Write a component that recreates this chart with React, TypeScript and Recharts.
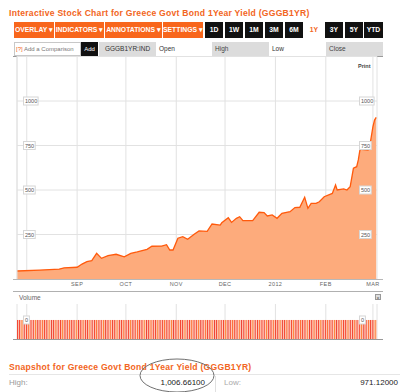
import React from "react";
import { AreaChart, Area, XAxis, YAxis, CartesianGrid, ReferenceLine, BarChart, Bar } from "recharts";

// ---- data ----
const dates = [
  "2011-07-26", "2011-08-09", "2011-08-21", "2011-08-24", "2011-09-01", "2011-09-04", "2011-09-07",
  "2011-09-10", "2011-09-13", "2011-09-16", "2011-09-20", "2011-09-25", "2011-09-30", "2011-10-04",
  "2011-10-08", "2011-10-14", "2011-10-17", "2011-10-23", "2011-10-26", "2011-10-28", "2011-10-30",
  "2011-11-02", "2011-11-05", "2011-11-08", "2011-11-12", "2011-11-15", "2011-11-20", "2011-11-23",
  "2011-11-28", "2011-11-29", "2011-12-03", "2011-12-05", "2011-12-08", "2011-12-10", "2011-12-12",
  "2011-12-18", "2011-12-22", "2011-12-25", "2011-12-27", "2011-12-30", "2012-01-02", "2012-01-05",
  "2012-01-10", "2012-01-13", "2012-01-16", "2012-01-19", "2012-01-21", "2012-01-23", "2012-01-26",
  "2012-01-28", "2012-01-31", "2012-02-05", "2012-02-07", "2012-02-08", "2012-02-12", "2012-02-14",
  "2012-02-16", "2012-02-18", "2012-02-20", "2012-02-21", "2012-02-22", "2012-02-23", "2012-02-27",
  "2012-02-28", "2012-03-01", "2012-03-02", "2012-03-03",
];
const yields = [
  45, 50, 56, 63, 66, 84, 97,
  103, 144, 116, 131, 139, 125, 144,
  152, 167, 184, 185, 193, 163, 163,
  229, 238, 223, 251, 270, 268, 309,
  303, 316, 344, 318, 341, 350, 328,
  328, 375, 373, 354, 360, 341, 369,
  378, 401, 403, 459, 397, 425, 425,
  434, 462, 481, 528, 500, 506, 500,
  519, 622, 631, 669, 725, 729, 725,
  744, 856, 893, 908,
];
const monthTickDates = ["2011-08-01", "2011-09-01", "2011-10-01", "2011-11-01", "2011-12-01", "2012-01-01", "2012-02-01", "2012-03-01"];
const monthTickLabels = ["", "SEP", "OCT", "NOV", "DEC", "2012", "FEB", "MAR"];
const yTicks = [250, 500, 750, 1000];
const volumeStart = "2011-07-26";
const volumeEnd = "2012-03-02";
const volumeBarLevel = 1;
const volumeAxisLabel = "0";
const snapshotHigh = "1,006.66100";
const snapshotLow = "971.12000";

// ---- helpers ----
const ORIGIN = Date.UTC(2011, 8, 1);
const DAY = 86400000;
const toDay = (s: string) => {
  const [y, m, d] = s.split("-").map(Number);
  return (Date.UTC(y, m - 1, d) - ORIGIN) / DAY;
};
const mainData = dates.map((d, i) => ({ day: toDay(d), value: yields[i] }));
const monthTicks = monthTickDates.map(toDay);
const labelFor = (v: number) => monthTickLabels[monthTicks.indexOf(v)] ?? "";

const volumeData: { day: number; volume: number }[] = [];
for (let t = toDay(volumeStart); t <= toDay(volumeEnd); t++) {
  const wd = new Date(ORIGIN + t * DAY).getUTCDay();
  if (wd !== 0 && wd !== 6) volumeData.push({ day: t, volume: volumeBarLevel });
}

const X_DOMAIN: [number, number] = [-37, 184.5];
const ORANGE = "#f26522";
const FONT = "'Liberation Sans', Arial, sans-serif";

// draws the boxed value label on both sides of the plot
const boxTick = (fmt: (v: any) => string) => (props: any) => {
  const label = fmt(props.payload.value);
  const w = label.length * 2.9 + 3;
  return (
    <g>
      {[23, 359].map((lx) => (
        <g key={lx}>
          <rect x={lx + 0.5} y={props.y - 4} width={w} height={8} fill="#fff" stroke="#d6d6d6" strokeWidth={1} />
          <text x={lx + 2} y={props.y + 2} fontSize={5.5} fill="#555" fontFamily={FONT}>{label}</text>
        </g>
      ))}
    </g>
  );
};

const xTick = (props: any) => (
  <text x={props.x} y={286} textAnchor="middle" fontSize={5.5} letterSpacing={0.4} fill="#666" fontFamily={FONT}>
    {labelFor(props.payload.value)}
  </text>
);

const stripeColors = ["#f2200c", "#f2200c", "#ff7214", "#e8180c", "#f2200c", "#ff5a10"];
const VolumeShape = (props: any) => {
  const { x, y, width, height, index } = props;
  return (
    <g>
      <rect x={x} y={y} width={width} height={height} fill="#fcbfac" />
      <rect x={x} y={y} width={0.75} height={height} fill={stripeColors[index % stripeColors.length]} />
    </g>
  );
};

const abs = (s: React.CSSProperties): React.CSSProperties => ({ position: "absolute", ...s });

const orangeButtons = [
  { label: "OVERLAY ▾", x: 14, w: 40 },
  { label: "INDICATORS ▾", x: 55, w: 49 },
  { label: "ANNOTATIONS ▾", x: 105, w: 57 },
  { label: "SETTINGS ▾", x: 163, w: 40 },
];
const blackButtons = [
  { label: "1D", x: 205, w: 18 },
  { label: "1W", x: 225, w: 18 },
  { label: "1M", x: 245, w: 18 },
  { label: "3M", x: 265, w: 18 },
  { label: "6M", x: 285, w: 18 },
  { label: "3Y", x: 325, w: 18 },
  { label: "5Y", x: 345, w: 18 },
  { label: "YTD", x: 364, w: 19 },
];

const titleStyle: React.CSSProperties = { fontSize: 8.6, fontWeight: "bold", color: ORANGE, letterSpacing: 0.25, whiteSpace: "nowrap" };
const btnText: React.CSSProperties = { fontSize: 6.8, fontWeight: "bold", lineHeight: "16px", textAlign: "center", whiteSpace: "nowrap", overflow: "hidden" };

export default function App() {
  return (
    <div style={{ position: "absolute", left: 0, top: 0, width: 400, height: 392, background: "#fff", fontFamily: FONT, overflow: "hidden" }}>
      {/* Title */}
      <div style={abs({ left: 9, top: 8, ...titleStyle })}>
        Interactive Stock Chart for Greece Govt Bond 1Year Yield (GGGB1YR)
      </div>

      {/* Toolbar */}
      {orangeButtons.map((b) => (
        <div key={b.label} style={abs({ left: b.x, top: 22, width: b.w, height: 16, background: "#f8661c", color: "#fff", ...btnText })}>
          {b.label}
        </div>
      ))}
      {blackButtons.map((b) => (
        <div key={b.label} style={abs({ left: b.x, top: 22, width: b.w, height: 16, background: "#111", color: "#fff", ...btnText })}>
          {b.label}
        </div>
      ))}
      <div style={abs({ left: 305, top: 22, width: 18, height: 16, color: ORANGE, ...btnText })}>1Y</div>

      {/* Row 2 */}
      <div style={abs({ left: 14, top: 42, width: 64, height: 12, border: "1px solid #c8c8c8", fontSize: 6, lineHeight: "12px", color: "#777", whiteSpace: "nowrap", paddingLeft: 1 })}>
        <span style={{ color: ORANGE }}>[?]</span> Add a Comparison
      </div>
      <div style={abs({ left: 81, top: 42, width: 17, height: 14, background: "#111", color: "#fff", fontSize: 6, lineHeight: "14px", textAlign: "center" })}>Add</div>
      <div style={abs({ left: 99, top: 42, width: 57, height: 14, background: "#dcdcdc", color: "#333", fontSize: 6.5, lineHeight: "14px", textAlign: "center" })}>GGGB1YR:IND</div>
      <div style={abs({ left: 159, top: 42, height: 14, color: "#333", fontSize: 6.5, lineHeight: "14px" })}>Open</div>
      <div style={abs({ left: 212, top: 42, width: 57, height: 14, background: "#dcdcdc", color: "#444", fontSize: 6.5, lineHeight: "14px", paddingLeft: 3, boxSizing: "border-box" })}>High</div>
      <div style={abs({ left: 272, top: 42, height: 14, color: "#333", fontSize: 6.5, lineHeight: "14px" })}>Low</div>
      <div style={abs({ left: 326, top: 42, width: 57, height: 14, background: "#dcdcdc", color: "#444", fontSize: 6.5, lineHeight: "14px", paddingLeft: 3, boxSizing: "border-box" })}>Close</div>

      {/* Main chart frame lines */}
      <div style={abs({ left: 13, top: 56, width: 370, height: 1, background: "#9a9a9a" })} />

      <div style={abs({ left: 0, top: 0 })}>
        <AreaChart width={400} height={300} data={mainData} margin={{ top: 56.5, right: 23, bottom: 9, left: 16 }}>
          <CartesianGrid stroke="#e2e2e2" strokeWidth={1} />
          <XAxis dataKey="day" type="number" domain={X_DOMAIN} allowDataOverflow ticks={monthTicks} height={12} axisLine={false} tickLine={false} tick={xTick} interval={0} />
          <YAxis width={1} domain={[0, 1250]} ticks={yTicks} axisLine={false} tickLine={false} tick={boxTick((v) => String(v))} interval={0} />
          <ReferenceLine x={X_DOMAIN[0]} stroke="#e2e2e2" />
          <Area type="linear" dataKey="value" stroke="#ff5a0c" strokeWidth={1.3} fill="#fdab7c" fillOpacity={1} isAnimationActive={false} dot={false} />
        </AreaChart>
      </div>
      <div style={abs({ left: 13, top: 279, width: 370, height: 1, background: "#b8b8b8" })} />
      <div style={abs({ left: 358, top: 63, fontSize: 5.5, fontWeight: "bold", color: "#444" })}>Print</div>

      {/* Volume panel */}
      <div style={abs({ left: 13, top: 291, width: 370, height: 1, background: "#b0b0b0" })} />
      <div style={abs({ left: 19, top: 294, fontSize: 6.5, color: "#666" })}>Volume</div>
      <div style={abs({ left: 375, top: 294, width: 6, height: 6, background: "#ddd", border: "0.5px solid #999", fontSize: 5, lineHeight: "6px", textAlign: "center", color: "#555", boxSizing: "border-box" })}>×</div>
      <div style={abs({ left: 0, top: 291 })}>
        <BarChart width={400} height={52} data={volumeData} margin={{ top: 13, right: 23, bottom: 4, left: 16 }} barCategoryGap={0} barGap={0}>
          <XAxis xAxisId="cat" dataKey="day" type="category" hide />
          <XAxis xAxisId="num" dataKey="day" type="number" domain={X_DOMAIN} allowDataOverflow ticks={monthTicks} hide />
          <CartesianGrid xAxisId="num" horizontal={false} stroke="#e2e2e2" />
          <YAxis width={1} domain={[0, 1.84]} ticks={[volumeBarLevel]} axisLine={false} tickLine={false} tick={boxTick(() => volumeAxisLabel)} interval={0} />
          <Bar xAxisId="cat" dataKey="volume" shape={VolumeShape} isAnimationActive={false} />
        </BarChart>
      </div>
      <div style={abs({ left: 13, top: 339, width: 370, height: 1, background: "#999" })} />

      {/* Snapshot */}
      <div style={abs({ left: 9, top: 362, ...titleStyle })}>
        Snapshot for Greece Govt Bond 1Year Yield (GGGB1YR)
      </div>
      <div style={abs({ left: 9, top: 374, width: 391, height: 1, background: "#e6e6e6" })} />
      <div style={abs({ left: 215, top: 376, width: 1, height: 16, background: "#e0e0e0" })} />
      <div style={abs({ left: 9, top: 378, fontSize: 8, color: "#999" })}>High:</div>
      <div style={abs({ left: 120, top: 378, width: 85, fontSize: 8, color: "#222", textAlign: "right" })}>{snapshotHigh}</div>
      <div style={abs({ left: 224, top: 378, fontSize: 8, color: "#aaa" })}>Low:</div>
      <div style={abs({ left: 300, top: 378, width: 98, fontSize: 8, color: "#222", textAlign: "right" })}>{snapshotLow}</div>
      <svg width={400} height={392} style={abs({ left: 0, top: 0, pointerEvents: "none" })}>
        <ellipse cx={177} cy={375.5} rx={37} ry={16.5} fill="none" stroke="#707070" strokeWidth={1} />
      </svg>
    </div>
  );
}
